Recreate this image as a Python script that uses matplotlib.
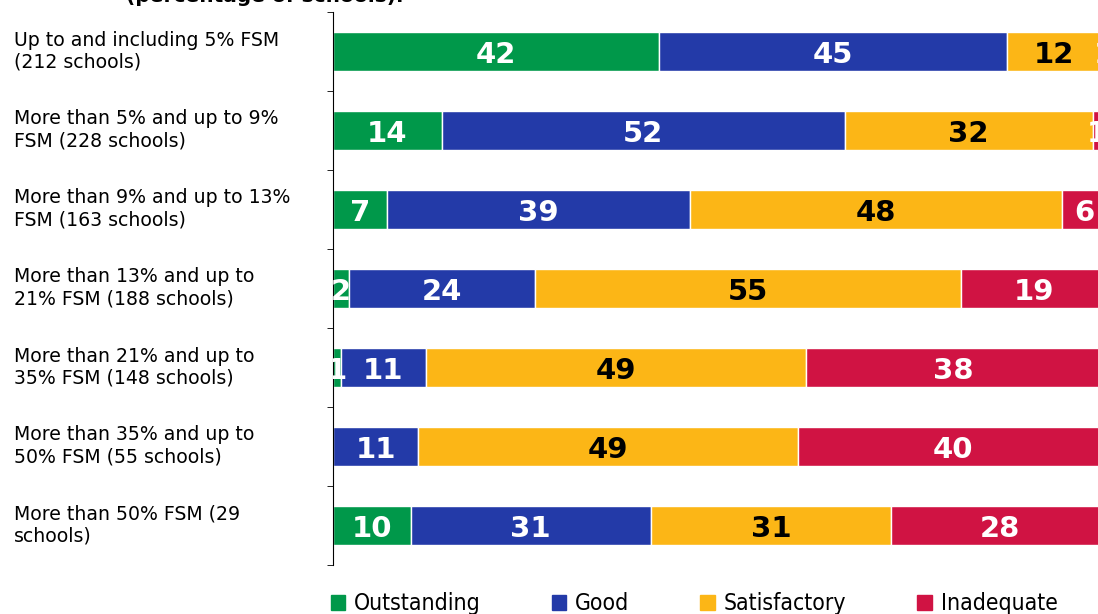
import matplotlib.pyplot as plt
from matplotlib.patches import Patch
import numpy as np

categories = ["Up to and including 5% FSM\n(212 schools)",
              "More than 5% and up to 9%\nFSM (228 schools)",
              "More than 9% and up to 13%\nFSM (163 schools)",
              "More than 13% and up to\n21% FSM (188 schools)",
              "More than 21% and up to\n35% FSM (148 schools)",
              "More than 35% and up to\n50% FSM (55 schools)",
              "More than 50% FSM (29\nschools)"]
outstanding = [42, 14, 7, 2, 1, 0, 10]
good = [45, 52, 39, 24, 11, 11, 31]
satisfactory = [12, 32, 48, 55, 49, 49, 31]
inadequate = [1, 1, 6, 19, 38, 40, 28]

series = [("Outstanding", outstanding, "#00984a", "white"),
          ("Good", good, "#233aa8", "white"),
          ("Satisfactory", satisfactory, "#fcb616", "black"),
          ("Inadequate", inadequate, "#d01343", "white")]

fig = plt.figure(figsize=(10.98, 6.14), dpi=100)
ax = fig.add_axes([333/1098, 1 - 565/614, 775/1098, 553/614])

y = np.arange(len(categories))
left = np.zeros(len(categories))
for name, vals, col, tcol in series:
    vals = np.array(vals, dtype=float)
    ax.barh(y, vals, left=left, height=0.5, color=col, edgecolor="white", linewidth=1)
    for yi, v, l in zip(y, vals, left):
        if v > 0:
            ax.text(l + v / 2, yi + 0.05, f"{int(v)}", ha="center", va="center",
                    color=tcol, fontsize=21, fontweight="bold", clip_on=True)
    left += vals

ax.set_xlim(0, 100)
ax.set_ylim(len(categories) - 0.5, -0.5)
ax.set_xticks([])
ax.set_yticks([])
ax.set_yticks(np.arange(len(categories) + 1) - 0.5, minor=True)
ax.tick_params(axis="y", which="minor", length=4, direction="out")
for s in ["top", "right", "bottom"]:
    ax.spines[s].set_visible(False)

for yi, lab in zip(y, categories):
    fig.text(14/1098, 1 - (51 + 79 * yi) / 614, lab, ha="left", va="center",
             fontsize=13.6, linespacing=1.2)

fig.text(265/1098, 1 - 2/614, "(percentage of schools).", ha="center", va="baseline",
         fontsize=14.5, fontweight="bold")

handles = [Patch(color=c, label=n) for n, _, c, _ in series]
fig.legend(handles=handles, loc="lower left", bbox_to_anchor=(310/1098, -0.036),
           ncol=4, frameon=False, handlelength=0.62, handleheight=0.62,
           handletextpad=0.4, columnspacing=3.1,
           prop={"family": "DejaVu Sans", "stretch": "condensed", "size": 16.5})

fig.savefig("out.png", dpi=100)
